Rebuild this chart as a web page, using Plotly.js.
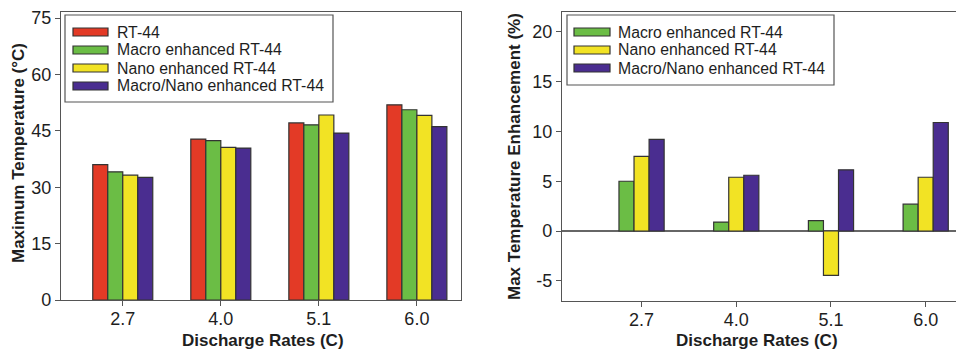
<!DOCTYPE html>
<html>
<head>
<meta charset="utf-8">
<script src="https://cdn.plot.ly/plotly-3.0.1.min.js"></script>
<style>html,body{margin:0;padding:0;background:#fff;}#chart{width:956px;height:351px;}</style>
</head>
<body>
<div id="chart"></div>
<script>
// ---- data ----
var rates = ["2.7", "4.0", "5.1", "6.0"];
var seriesNames = ["RT-44", "Macro enhanced RT-44", "Nano enhanced RT-44", "Macro/Nano enhanced RT-44"];
var tempRT44 = [36.0, 42.8, 47.1, 51.9];
var tempMacro = [34.1, 42.4, 46.6, 50.6];
var tempNano = [33.2, 40.6, 49.2, 49.1];
var tempMacroNano = [32.6, 40.4, 44.4, 46.1];
var enhMacro = [5.0, 0.9, 1.05, 2.7];
var enhNano = [7.5, 5.4, -4.45, 5.4];
var enhMacroNano = [9.2, 5.6, 6.15, 10.9];
var leftTicks = [0, 15, 30, 45, 60, 75];
var rightTicks = [-5, 0, 5, 10, 15, 20];

// ---- styles ----
var colors = ["#e33a26", "#6bbd45", "#f2e324", "#4a2d90"];
var W = 956, H = 351;
var FONT = "Liberation Sans, Arial, sans-serif";
var lineCol = "#555";
var txtCol = "#1e1e1e";

function px(x) { return x / W; }
function py(y) { return 1 - y / H; }

var traces = [];
var leftVals = [tempRT44, tempMacro, tempNano, tempMacroNano];
var wL = 0.153;
leftVals.forEach(function (v, i) {
  traces.push({
    type: "bar", x: rates, y: v, name: seriesNames[i],
    xaxis: "x", yaxis: "y", width: wL, offset: -2 * wL + i * wL,
    marker: { color: colors[i], line: { color: "#333", width: 1.2 } },
    showlegend: false, hoverinfo: "x+y"
  });
});
var rightVals = [enhMacro, enhNano, enhMacroNano];
var wR = 0.159;
rightVals.forEach(function (v, i) {
  traces.push({
    type: "bar", x: rates, y: v, name: seriesNames[i + 1],
    xaxis: "x2", yaxis: "y2", width: wR, offset: -1.5 * wR + i * wR,
    marker: { color: colors[i + 1], line: { color: "#333", width: 1.2 } },
    showlegend: false, hoverinfo: "x+y"
  });
});

var tickFont = { family: FONT, size: 18, color: txtCol };
var yTop = 12, yBot = 300;

var layout = {
  width: W, height: H,
  margin: { l: 0, r: 0, t: 0, b: 0 },
  paper_bgcolor: "#fff", plot_bgcolor: "#fff",
  barmode: "overlay",
  font: { family: FONT, color: txtCol },
  showlegend: false,
  xaxis: {
    domain: [px(61), px(461)], anchor: "y", type: "category",
    range: [-0.63, 3.45], showline: true, linecolor: lineCol, linewidth: 1.2, mirror: true,
    ticks: "outside", ticklen: 5, tickcolor: lineCol, tickfont: tickFont, ticklabelstandoff: -3,
    showgrid: false, zeroline: false
  },
  yaxis: {
    domain: [py(yBot), py(yTop)], anchor: "x",
    range: [0, 76.6], tickvals: leftTicks, showline: true, linecolor: lineCol, linewidth: 1.2, mirror: true,
    ticks: "outside", ticklen: 5, tickcolor: lineCol, tickfont: tickFont, showgrid: false, zeroline: false
  },
  xaxis2: {
    domain: [px(562), 1], anchor: "y2", type: "category",
    range: [-0.84, 3.32], showline: true, linecolor: lineCol, linewidth: 1.2, mirror: true,
    ticks: "outside", ticklen: 5, tickcolor: lineCol, tickfont: tickFont, ticklabelstandoff: -3,
    showgrid: false, zeroline: false
  },
  yaxis2: {
    domain: [py(300.7), py(yTop)], anchor: "x2",
    range: [-7, 22], tickvals: rightTicks, ticktext: rightTicks.map(String),
    showline: true, linecolor: lineCol, linewidth: 1.2, mirror: false,
    ticks: "outside", ticklen: 5, tickcolor: lineCol, tickfont: tickFont, showgrid: false,
    zeroline: true, zerolinecolor: "#666", zerolinewidth: 1.3
  },
  shapes: [],
  annotations: []
};

var titleFont = { family: FONT, size: 17, color: txtCol, weight: "bold" };
layout.annotations.push(
  { xref: "paper", yref: "paper", x: px(263), y: py(340), text: "<b>Discharge Rates (C)</b>", showarrow: false, font: titleFont, xanchor: "center", yanchor: "middle" },
  { xref: "paper", yref: "paper", x: px(757), y: py(340), text: "<b>Discharge Rates (C)</b>", showarrow: false, font: titleFont, xanchor: "center", yanchor: "middle" },
  { xref: "paper", yref: "paper", x: px(18), y: py(153), text: "<b>Maximum Temperature (°C)</b>", textangle: -90, showarrow: false, font: titleFont, xanchor: "center", yanchor: "middle" },
  { xref: "paper", yref: "paper", x: px(514), y: py(157), text: "<b>Max Temperature Enhancement (%)</b>", textangle: -90, showarrow: false, font: titleFont, xanchor: "center", yanchor: "middle" }
);

// custom legends
function addLegend(box, items, symX0, symX1, textX, itemYs) {
  layout.shapes.push({ type: "rect", xref: "paper", yref: "paper", x0: px(box[0]), x1: px(box[1]), y0: py(box[3]), y1: py(box[2]), line: { color: lineCol, width: 1.2 }, fillcolor: "rgba(255,255,255,1)", layer: "above" });
  items.forEach(function (it, k) {
    var yc = itemYs[k];
    layout.shapes.push({ type: "rect", xref: "paper", yref: "paper", x0: px(symX0), x1: px(symX1), y0: py(yc + 4), y1: py(yc - 4), line: { color: "#333", width: 1.2 }, fillcolor: it.color, layer: "above" });
    layout.annotations.push({ xref: "paper", yref: "paper", x: px(textX), y: py(yc), text: it.name, showarrow: false, xanchor: "left", yanchor: "middle", font: { family: FONT, size: 15.8, color: txtCol } });
  });
}
addLegend([65, 333, 15, 102],
  seriesNames.map(function (n, i) { return { name: n, color: colors[i] }; }),
  73, 108, 115, [32, 50, 68, 86]);
addLegend([567, 834, 15, 85],
  seriesNames.slice(1).map(function (n, i) { return { name: n, color: colors[i + 1] }; }),
  574, 610, 616, [32, 50, 68]);

Plotly.newPlot("chart", traces, layout, { staticPlot: true, displayModeBar: false });
</script>
</body>
</html>
